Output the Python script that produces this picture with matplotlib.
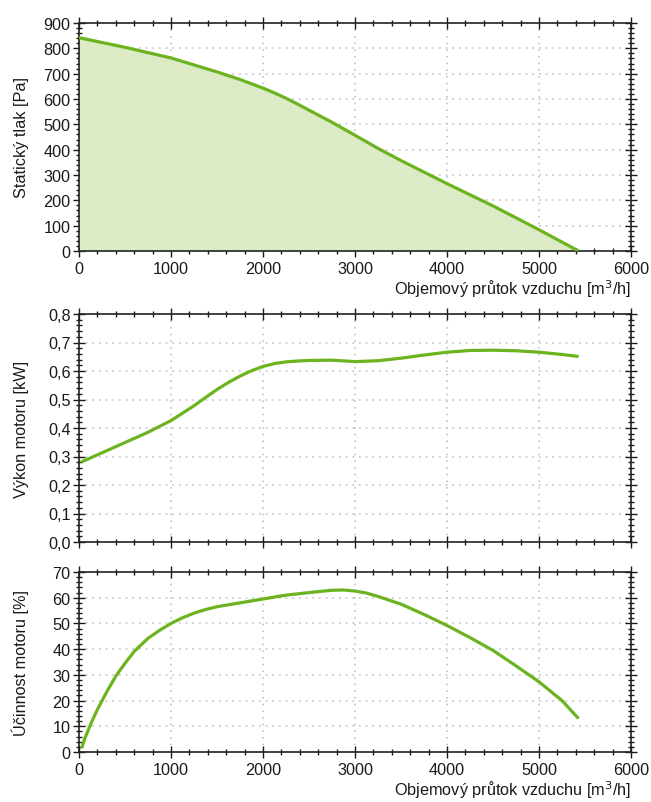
import matplotlib
matplotlib.use("Agg")
import matplotlib.pyplot as plt
from matplotlib.ticker import MultipleLocator, FuncFormatter

plt.rcParams['font.family'] = ['Liberation Sans', 'DejaVu Sans']
plt.rcParams['font.size'] = 11.7

# --- data ---
flow_p = [0, 500, 1000, 1500, 1750, 2000, 2125, 2250, 2375, 2500, 2750, 3000, 3250,
          3500, 4000, 4500, 5000, 5430]
pressure = [842, 804, 762, 707, 677, 643, 624, 603, 580, 556, 508, 457, 405,
            357, 266, 178, 84, 0]

flow_w = [20, 250, 500, 750, 1000, 1250, 1375, 1500, 1625, 1750, 1875, 2000, 2125, 2250,
          2375, 2500, 2750, 3000, 3250, 3500, 3750, 4000, 4250, 4500, 4750, 5000, 5250, 5430]
power = [0.280, 0.313, 0.349, 0.385, 0.426, 0.478, 0.507, 0.535, 0.560, 0.582, 0.601,
         0.616, 0.626, 0.632, 0.635, 0.637, 0.638, 0.633, 0.636, 0.645, 0.656, 0.666,
         0.672, 0.673, 0.671, 0.666, 0.658, 0.651]

flow_e = [30, 60, 100, 150, 200, 300, 400, 500, 600, 750, 875, 1000, 1125, 1250, 1375,
          1500, 1750, 2000, 2250, 2500, 2750, 2875, 3000, 3125, 3250, 3500, 3750, 4000,
          4250, 4500, 4750, 5000, 5250, 5430]
efficiency = [1.5, 5.0, 8.5, 12.7, 16.5, 23.3, 29.5, 34.5, 39.1, 44.2, 47.3, 50.0, 52.2,
              54.0, 55.4, 56.5, 58.0, 59.5, 61.0, 62.0, 62.9, 63.0, 62.6, 61.8, 60.5, 57.5,
              53.5, 49.2, 44.5, 39.5, 33.5, 27.3, 20.0, 13.0]

xlabel = "Objemový průtok vzduchu [m$^3$/h]"
ylabels = ["Statický tlak [Pa]", "Výkon motoru [kW]", "Účinnost motoru [%]"]

line_color = "#6cb41f"
fill_color = "#dcebc5"

W, H = 651, 803
fig = plt.figure(figsize=(W / 100, H / 100), dpi=100)

def rect(left, top, right, bottom):
    return [left / W, 1 - bottom / H, (right - left) / W, (bottom - top) / H]

ax1 = fig.add_axes(rect(79, 24, 631, 252))
ax2 = fig.add_axes(rect(79, 315, 631, 543))
ax3 = fig.add_axes(rect(79, 573, 631, 753))

def style(ax, ymax, ymaj, ymin, show_xlabels):
    ax.set_xlim(0, 6000)
    ax.set_ylim(0, ymax)
    ax.xaxis.set_major_locator(MultipleLocator(1000))
    ax.xaxis.set_minor_locator(MultipleLocator(200))
    ax.yaxis.set_major_locator(MultipleLocator(ymaj))
    ax.yaxis.set_minor_locator(MultipleLocator(ymin))
    ax.tick_params(which='both', direction='inout', top=True, right=True,
                   colors='#1a1a1a', labelsize=11.7)
    ax.tick_params(which='major', length=8, width=1)
    ax.tick_params(which='minor', length=4, width=1)
    ax.tick_params(axis='x', which='major', pad=3)
    ax.tick_params(axis='y', which='major', pad=2)
    ax.grid(True, which='major', linestyle=(0, (1, 3)), color='#c4c4c4', linewidth=1.2)
    ax.set_axisbelow(True)
    for s in ax.spines.values():
        s.set_linewidth(1.2)
        s.set_color('#222222')
    if not show_xlabels:
        ax.tick_params(axis='x', labelbottom=False)
    else:
        ax.set_xlabel(xlabel, loc='right', fontsize=11.7, labelpad=1, color='#1a1a1a')

style(ax1, 900, 100, 20, True)
ax1.fill_between(flow_p, pressure, 0, color=fill_color, linewidth=0, zorder=1)
ax1.plot(flow_p, pressure, color=line_color, linewidth=2.3, zorder=3, solid_capstyle='butt')

style(ax2, 0.8, 0.1, 0.02, False)
ax2.yaxis.set_major_formatter(FuncFormatter(lambda v, p: f"{v:.1f}".replace('.', ',')))
ax2.plot(flow_w, power, color=line_color, linewidth=2.3, zorder=3, solid_capstyle='butt')

style(ax3, 70, 10, 2, True)
ax3.plot(flow_e, efficiency, color=line_color, linewidth=2.3, zorder=3, solid_capstyle='butt')

for ax, lab in zip([ax1, ax2, ax3], ylabels):
    ax.set_ylabel(lab, fontsize=11.7, color='#1a1a1a')
    ax.yaxis.set_label_coords(-0.09, 0.5)

fig.savefig("out.png", dpi=100)
